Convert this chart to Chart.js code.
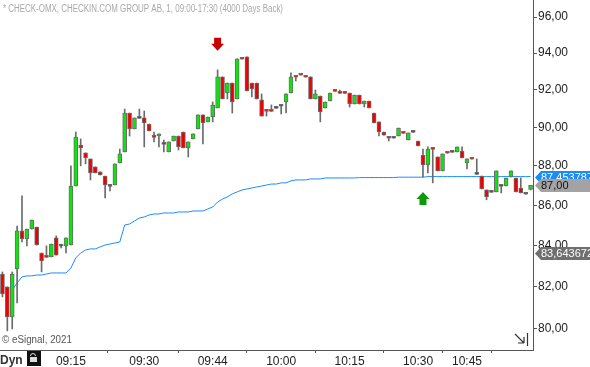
<!DOCTYPE html>
<html>
<head>
<meta charset="utf-8">
<script src="https://cdn.jsdelivr.net/npm/chart.js@4.4.1/dist/chart.umd.min.js"></script>
<style>
html,body{margin:0;padding:0;background:#fff;overflow:hidden}
canvas{display:block}
</style>
</head>
<body>
<canvas id="c" width="590" height="367"></canvas>
<script>
// 1-minute bars, CHECK-OMX
const times = [
"09:01","09:02","09:03","09:04","09:05","09:06","09:07","09:08","09:09","09:10",
"09:11","09:12","09:13","09:14","09:15","09:16","09:17","09:18","09:19","09:20",
"09:21","09:22","09:23","09:24","09:25","09:26","09:27","09:28","09:29","09:30",
"09:31","09:32","09:33","09:34","09:35","09:36","09:37","09:38","09:39","09:40",
"09:41","09:42","09:43","09:44","09:46","09:47","09:48","09:49","09:50","09:51",
"09:53","09:54","09:55","09:56","09:57","09:58","09:59","10:00","10:01","10:02",
"10:03","10:04","10:05","10:06","10:08","10:09","10:10","10:11","10:12","10:13",
"10:14","10:15","10:16","10:17","10:18","10:19","10:20","10:21","10:23","10:24",
"10:25","10:26","10:27","10:28","10:29","10:30","10:31","10:32","10:34","10:35",
"10:37","10:38","10:40","10:42","10:43","10:45","10:46","10:47","10:48","10:49",
"10:50","10:51","10:52","10:53","10:54","10:55","10:56","10:57","10:58"
]
const tickLabels = ["09:15","09:30","09:44","10:00","10:15","10:30","10:45"]
const priceTicks = [80,82,84,86,88,90,92,94,96]

const opens = [
82.61,81.99,80.56,82.86,84.72,84.32,84.81,84.91,83.63,83.44,
83.44,84.37,83.98,83.98,84.02,86.97,89.08,88.67,88.36,87.95,
87.69,87.48,86.97,87.02,88.15,88.72,90.76,89.92,90.50,90.50,
90.18,89.50,89.55,89.13,88.72,89.29,89.55,89.76,88.93,89.40,
89.92,90.66,90.29,90.55,91.03,92.70,91.83,92.37,91.51,93.68,
93.79,92.37,92.37,91.46,90.87,90.87,91.03,91.14,91.35,91.83,
92.70,92.81,92.70,92.70,91.51,91.67,91.03,91.40,91.94,91.83,
91.83,91.83,91.24,91.72,91.24,91.40,90.76,90.29,89.76,89.45,
89.45,89.55,89.71,89.34,89.76,89.29,88.56,88.05,88.87,88.46,
87.74,88.67,88.72,88.72,88.77,88.15,88.36,87.58,87.48,86.77,
86.67,86.67,86.97,86.97,87.43,87.38,86.87,86.57,86.80
]
const highs = [
82.71,81.99,82.71,84.96,86.47,84.81,85.26,84.91,83.63,83.98,
84.07,84.47,84.07,84.37,88.00,89.76,89.40,88.67,88.36,87.95,
87.69,87.48,86.97,88.10,88.87,90.97,90.76,90.50,90.97,90.87,
90.18,89.76,89.66,89.34,89.24,89.55,89.55,89.76,89.24,89.66,
90.66,90.66,90.55,91.35,93.08,92.70,92.37,92.37,93.68,93.72,
93.79,92.37,92.37,91.78,90.89,91.19,91.05,91.16,91.78,92.92,
92.72,92.83,92.72,92.70,91.99,91.67,91.35,91.83,91.96,91.99,
91.85,91.83,91.72,91.72,91.40,91.40,90.76,90.29,89.76,89.47,
89.47,89.97,89.73,89.71,89.78,89.29,88.87,88.98,88.89,88.46,
88.62,88.69,88.74,88.98,88.98,88.36,88.38,88.36,87.48,86.77,
86.69,87.74,86.99,87.38,87.74,87.38,87.38,86.59,87.00
]
const lows = [
81.51,79.91,80.00,81.22,84.17,83.98,84.81,84.02,82.71,83.42,
83.44,83.53,83.88,83.63,84.02,86.97,88.00,88.10,87.28,87.64,
87.53,86.37,86.72,87.02,88.15,88.72,89.55,89.92,90.48,88.98,
89.81,89.24,88.98,88.72,88.72,89.29,88.82,88.93,88.46,89.40,
89.92,89.13,90.29,90.29,91.03,91.51,91.51,90.76,91.51,93.66,
91.94,91.62,91.51,90.60,90.60,90.85,91.01,90.71,90.76,91.83,
92.48,92.79,92.68,91.51,91.51,90.29,91.03,91.40,91.92,91.81,
91.81,91.08,91.24,91.24,91.08,91.03,90.24,89.55,89.60,89.29,
89.43,89.55,89.69,89.34,89.74,89.03,87.43,87.64,87.13,87.74,
87.74,88.65,88.70,88.72,88.41,87.84,88.34,87.56,86.82,86.27,
86.65,86.67,86.62,86.97,87.43,86.67,86.62,86.55,86.77
]
const closes = [
81.65,80.56,82.61,84.72,84.32,84.81,85.26,84.02,83.24,83.42,
84.07,83.53,83.96,84.37,86.97,89.50,88.93,88.41,87.64,87.64,
87.53,87.02,86.95,88.10,88.62,90.76,89.92,90.50,90.48,90.24,
89.81,89.48,89.66,89.11,89.24,89.55,88.98,88.93,89.24,89.66,
90.66,90.24,90.55,91.19,92.70,91.51,92.37,91.35,93.68,93.66,
91.94,92.05,91.51,90.60,90.85,90.85,91.01,91.12,91.78,92.70,
92.68,92.79,92.68,91.51,91.78,90.82,91.35,91.83,91.92,91.81,
91.81,91.24,91.72,91.24,91.40,91.03,90.24,89.76,89.60,89.43,
89.43,89.97,89.69,89.71,89.74,89.03,88.05,88.87,88.85,87.74,
88.62,88.65,88.70,88.98,88.41,88.36,88.34,87.56,86.82,86.42,
86.65,87.74,86.95,87.38,87.74,86.67,86.62,86.55,87.00
]
const vwap = [
null,null,81.84,82.18,82.47,82.52,82.52,82.56,82.56,82.61,
82.66,82.66,82.66,82.66,82.90,83.39,83.63,83.78,83.83,83.83,
83.93,84.02,84.07,84.12,84.17,85.01,85.06,85.21,85.36,85.41,
85.51,85.56,85.56,85.61,85.61,85.61,85.66,85.66,85.66,85.71,
85.71,85.71,85.81,85.91,86.16,86.31,86.42,86.57,86.67,86.77,
86.82,86.87,86.92,86.97,87.02,87.07,87.07,87.13,87.13,87.23,
87.28,87.28,87.28,87.33,87.33,87.33,87.38,87.38,87.38,87.38,
87.38,87.38,87.38,87.40,87.40,87.40,87.40,87.40,87.40,87.40,
87.40,87.42,87.42,87.42,87.42,87.42,87.42,87.45,87.45,87.45,
87.45,87.45,87.45,87.45,87.45,87.45,87.45,87.45,87.45,87.45,
87.45,87.45,87.45,87.45,87.45,87.45,87.45,87.45,87.4538
]
const sellSignals = [44]
const buySignals = [86]
const markerValues = [87.453787, 87.00, 83.643672]
const markerTexts = ["87,453787", "87,00", "83,643672"]

const FONT = "'Liberation Sans', Arial, sans-serif"
Chart.defaults.font.family = FONT

const GREEN = "#0be60b"
const RED = "#f20000"
const EDGE = "#6b6b6b"

const bodyColors = opens.map((o,i)=> closes[i] >= o ? GREEN : RED)

function arrow(ctx, x, tipY, up, color){
  const d = up ? 1 : -1
  ctx.fillStyle = color
  ctx.beginPath()
  ctx.moveTo(x, tipY)
  ctx.lineTo(x+6.5, tipY+7*d)
  ctx.lineTo(x+3.5, tipY+7*d)
  ctx.lineTo(x+3.5, tipY+13*d)
  ctx.lineTo(x-3.5, tipY+13*d)
  ctx.lineTo(x-3.5, tipY+7*d)
  ctx.lineTo(x-6.5, tipY+7*d)
  ctx.closePath()
  ctx.fill()
}

const extras = {
  id: "extras",
  afterDatasetsDraw(chart){
    const ctx = chart.ctx
    const xs = chart.scales.x, ys = chart.scales.y
    ctx.save()
    sellSignals.forEach(i=>{
      arrow(ctx, xs.getPixelForValue(i), ys.getPixelForValue(highs[i]) - 19, false, "#c80000")
    })
    buySignals.forEach(i=>{
      arrow(ctx, xs.getPixelForValue(i), ys.getPixelForValue(lows[i]) + 15, true, "#0a9a0a")
    })
    ctx.restore()
  },
  afterDraw(chart){
    const ctx = chart.ctx
    const ys = chart.scales.y
    const right = chart.chartArea.right
    ctx.save()
    // title
    ctx.fillStyle = "#a8a8a8"
    ctx.font = "10px " + FONT
    ctx.textBaseline = "alphabetic"
    ctx.fillText("* CHECK-OMX, CHECKIN.COM GROUP AB, 1, 09:00-17:30 (4000 Days Back)", 3, 12, 280)
    // copyright
    ctx.fillStyle = "#555"
    ctx.font = "10px " + FONT
    ctx.fillText("\u00a9 eSignal, 2021", 2, 343, 70)
    // Dyn + lock
    ctx.fillStyle = "#333"
    ctx.font = "bold 12px " + FONT
    ctx.fillText("Dyn", 0, 364)
    ctx.fillStyle = "#111"
    ctx.fillRect(27, 351, 14, 15)
    ctx.strokeStyle = "#ddd"
    ctx.lineWidth = 1
    ctx.beginPath()
    ctx.arc(33, 356, 2.5, Math.PI, 0)
    ctx.stroke()
    ctx.fillStyle = "#ddd"
    ctx.fillRect(30, 357, 7, 5)
    // cursor icon bottom right
    ctx.strokeStyle = "#333"
    ctx.lineWidth = 1.2
    ctx.beginPath()
    ctx.moveTo(527.5, 333); ctx.lineTo(527.5, 346)
    ctx.moveTo(515, 334); ctx.lineTo(524, 343)
    ctx.moveTo(524, 343); ctx.lineTo(518, 343)
    ctx.moveTo(524, 343); ctx.lineTo(524, 337)
    ctx.stroke()
    // value markers on the price axis
    const fills = ["#1c8cf5", "#a3a3a3", "#6f6f6f"]
    const inks = ["#fff", "#111", "#fff"]
    ctx.font = "11px " + FONT
    ctx.textBaseline = "middle"
    markerValues.forEach((v,k)=>{
      const y = Math.round(ys.getPixelForValue(v)) + 0.5
      ctx.fillStyle = fills[k]
      ctx.beginPath()
      ctx.moveTo(right + 2, y)
      ctx.lineTo(right + 8, y - 6.5)
      ctx.lineTo(590, y - 6.5)
      ctx.lineTo(590, y + 6.5)
      ctx.lineTo(right + 8, y + 6.5)
      ctx.closePath()
      ctx.fill()
      ctx.fillStyle = inks[k]
      ctx.fillText(markerTexts[k], right + 8, y + 0.5)
    })
    ctx.restore()
  }
}

new Chart(document.getElementById("c"), {
  type: "bar",
  data: {
    labels: times,
    datasets: [
      {
        label: "body",
        data: opens.map((o,i)=>[o, closes[i]]),
        backgroundColor: bodyColors,
        borderColor: EDGE,
        borderWidth: 1,
        borderSkipped: false,
        barThickness: 4,
        minBarLength: 2,
        grouped: false,
        order: 0
      },
      {
        label: "wick",
        data: lows.map((l,i)=>[l, highs[i]]),
        backgroundColor: EDGE,
        barThickness: 1,
        grouped: false,
        order: 1
      },
      {
        type: "line",
        label: "vwap",
        data: vwap,
        borderColor: "#1a8cff",
        borderWidth: 1,
        pointRadius: 0,
        tension: 0,
        order: 2
      }
    ]
  },
  options: {
    responsive: false,
    devicePixelRatio: 1,
    animation: false,
    layout: { padding: 0, autoPadding: false },
    plugins: { legend: { display: false }, tooltip: { enabled: false } },
    scales: {
      x: {
        type: "category",
        offset: true,
        afterFit(s){ s.height = 17; s.paddingLeft = 0; s.paddingRight = 0 },
        grid: { drawOnChartArea: false, tickLength: 3, color: "#555" },
        border: { display: true, color: "#555" },
        ticks: {
          autoSkip: false,
          maxRotation: 0,
          padding: 1,
          color: "#222",
          font: { size: 12 },
          callback(v){
            const t = this.getLabelForValue(v)
            return tickLabels.includes(t) ? t : null
          }
        }
      },
      y: {
        type: "logarithmic",
        position: "right",
        min: 79.02,
        max: 96.96,
        afterFit(s){ s.width = 57; s.paddingTop = 0; s.paddingBottom = 0 },
        afterBuildTicks(s){ s.ticks = priceTicks.map(v=>({value: v})) },
        grid: { drawOnChartArea: false, tickLength: 4, color: "#555" },
        border: { display: true, color: "#555" },
        ticks: {
          padding: 1,
          color: "#222",
          font: { size: 12 },
          callback(v){ return v.toFixed(2).replace(".", ",") }
        }
      }
    }
  },
  plugins: [extras]
})
</script>
</body>
</html>
